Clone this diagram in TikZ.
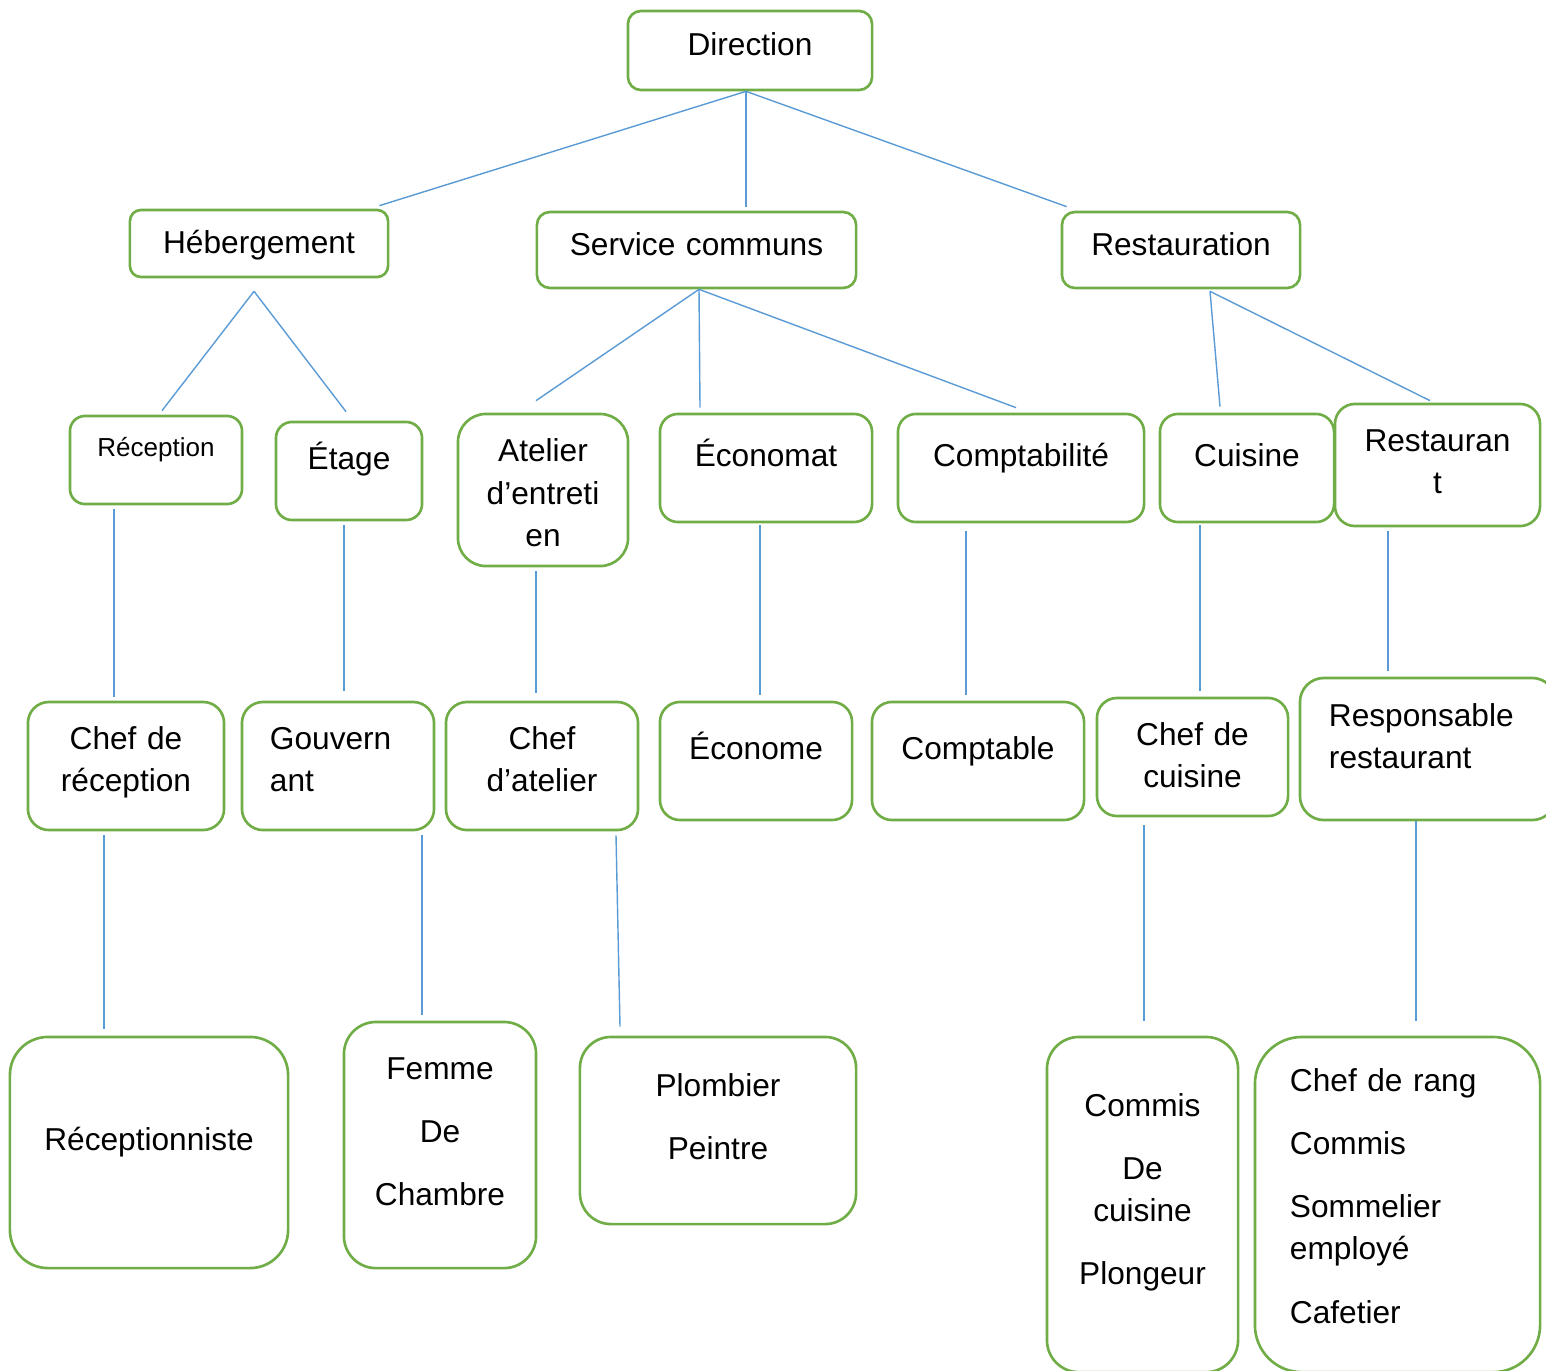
\documentclass[tikz,border=0pt]{standalone}
\usepackage{fontspec}
\setmainfont{Liberation Sans}
\usepackage{tikz}
\usetikzlibrary{positioning,calc}
\definecolor{orggreen}{RGB}{112,173,71}
\definecolor{orgblue}{RGB}{91,155,213}

\begin{document}
\begin{tikzpicture}[x=0.01cm, y=-0.01cm,
    box/.style={rectangle, draw=orggreen, line width=0.75pt, inner sep=0pt, anchor=base, align=center, font=\fontsize{9pt}{12pt}\selectfont},
    leftbox/.style={box, align=left},
    link/.style={draw=orgblue, line width=0.4pt}]

    \useasboundingbox (0,0) rectangle (1546,1370);

    % level 0 and 1
    \node[box, rounded corners=0.13cm, text width=2.44cm, text height=0.45cm, text depth=0.34cm] (dir) at (750,56) {Direction};
    \node[box, rounded corners=0.11cm, text width=2.58cm, text height=0.44cm, text depth=0.23cm] (heb) at (259,254) {Hébergement};
    \node[box, rounded corners=0.13cm, text width=3.19cm, text height=0.44cm, text depth=0.32cm] (serv) at (696.5,256) {Service communs};
    \node[box, rounded corners=0.13cm, text width=2.38cm, text height=0.44cm, text depth=0.32cm] (rest) at (1181,256) {Restauration};

    % level 2
    \node[box, rounded corners=0.15cm, text width=1.72cm, text height=0.40cm, text depth=0.48cm, font=\fontsize{7.4pt}{9pt}\selectfont] (recep) at (156,456) {Réception};
    \node[box, rounded corners=0.16cm, text width=1.46cm, text height=0.47cm, text depth=0.51cm] (etage) at (349,469) {Étage};
    \node[box, rounded corners=0.28cm, text width=1.70cm, text height=0.48cm, text depth=1.04cm] (atel) at (543,462) {Atelier\\d’entreti\\en};
    \node[box, rounded corners=0.18cm, text width=2.12cm, text height=0.52cm, text depth=0.56cm] (econ) at (766,466) {Économat};
    \node[box, rounded corners=0.18cm, text width=2.46cm, text height=0.52cm, text depth=0.56cm] (compta) at (1021,466) {Comptabilité};
    \node[box, rounded corners=0.18cm, text width=1.74cm, text height=0.52cm, text depth=0.56cm] (cuis) at (1247,466) {Cuisine};
    \node[box, rounded corners=0.20cm, text width=2.05cm, text height=0.47cm, text depth=0.75cm] (resto) at (1437.5,451) {Restauran\\t};

    % level 3
    \node[box, rounded corners=0.21cm, text width=1.96cm, text height=0.47cm, text depth=0.81cm] (chefrec) at (126,749) {Chef de\\réception};
    \node[leftbox, rounded corners=0.21cm, inner xsep=0.28cm, text width=1.36cm, text height=0.47cm, text depth=0.81cm] (gouv) at (338,749) {Gouvern\\ant};
    \node[box, rounded corners=0.21cm, text width=1.92cm, text height=0.47cm, text depth=0.81cm] (chefat) at (542,749) {Chef\\d’atelier};
    \node[box, rounded corners=0.20cm, text width=1.92cm, text height=0.57cm, text depth=0.61cm] (econome) at (756,759) {Économe};
    \node[box, rounded corners=0.20cm, text width=2.12cm, text height=0.57cm, text depth=0.61cm] (comptable) at (978,759) {Comptable};
    \node[box, rounded corners=0.20cm, text width=1.91cm, text height=0.47cm, text depth=0.71cm] (chefcuis) at (1192.5,745) {Chef de\\cuisine};
    \node[leftbox, rounded corners=0.24cm, inner xsep=0.29cm, text width=1.98cm, text height=0.48cm, text depth=0.94cm] (resp) at (1428,726) {Responsable\\restaurant};

    % level 4
    \node[box, rounded corners=0.38cm, text width=2.78cm, text height=1.13cm, text depth=1.18cm] (receptio) at (149,1150) {Réceptionniste};
    \node[box, rounded corners=0.32cm, text width=1.92cm, text height=0.57cm, text depth=1.89cm] (femme) at (440,1079) {Femme\\[6pt]De\\[6pt]Chambre};
    \node[box, rounded corners=0.31cm, text width=2.76cm, text height=0.59cm, text depth=1.28cm] (plomb) at (718,1096) {Plombier\\[6pt]Peintre};
    \node[box, rounded corners=0.32cm, text width=1.91cm, text height=0.79cm, text depth=2.56cm] (commis) at (1142.5,1116) {Commis\\[6pt]De\\cuisine\\[6pt]Plongeur};
    \node[leftbox, rounded corners=0.47cm, inner xsep=0.35cm, text width=2.15cm, text height=0.54cm, text depth=2.81cm] (chefrang) at (1397.5,1091) {Chef de rang\\[6pt]Commis\\[6pt]Sommelier\\employé\\[6pt]Cafetier};

    % links
    \draw[link] ($(dir.south)+(-4,0)$) -- ($(heb.north east)+(-10,-3)$);
    \draw[link] ($(dir.south)+(-4,0)$) -- ($(serv.north)+(49.5,-4)$);
    \draw[link] ($(dir.south)+(-4,0)$) -- ($(rest.north west)+(6,-4)$);
    \draw[link] ($(heb.south)+(-5,13)$) -- ($(recep.north)+(6,-4)$);
    \draw[link] ($(heb.south)+(-5,13)$) -- ($(etage.north)+(-3,-9)$);
    \draw[link] ($(serv.south)+(2.5,0)$) -- ($(atel.north)+(-7,-12)$);
    \draw[link] ($(serv.south)+(2.5,0)$) -- ($(econ.north)+(-66,-5)$);
    \draw[link] ($(serv.south)+(2.5,0)$) -- ($(compta.north)+(-5,-5)$);
    \draw[link] ($(rest.south)+(29,2)$) -- ($(cuis.north)+(-27,-6)$);
    \draw[link] ($(rest.south)+(29,2)$) -- ($(resto.north)+(-7.5,-2)$);

    \draw[link] ($(recep.south)+(-42,4)$) -- ($(chefrec.north)+(-12,-4)$);
    \draw[link] ($(etage.south)+(-5,4)$) -- ($(gouv.north)+(6,-10)$);
    \draw[link] ($(atel.south)+(-7,4)$) -- ($(chefat.north)+(-6,-8)$);
    \draw[link] ($(econ.south)+(-6,2)$) -- ($(econome.north)+(4,-6)$);
    \draw[link] ($(compta.south)+(-55,8)$) -- ($(comptable.north)+(-12,-6)$);
    \draw[link] ($(cuis.south)+(-47,2)$) -- ($(chefcuis.north)+(7.5,-6)$);
    \draw[link] ($(resto.south)+(-49.5,4)$) -- ($(resp.north)+(-40,-6)$);

    \draw[link] ($(chefrec.south)+(-22,4)$) -- ($(receptio.north)+(-45,-7)$);
    \draw[link] ($(gouv.south)+(84,4)$) -- ($(femme.north)+(-18,-6)$);
    \draw[link] ($(chefat.south)+(74,4)$) -- ($(plomb.north)+(-98,-9)$);
    \draw[link] ($(chefcuis.south)+(-48.5,8)$) -- ($(commis.north)+(1.5,-15)$);
    \draw[link] ($(resp.south)+(-12,0)$) -- ($(chefrang.north)+(18.5,-15)$);
\end{tikzpicture}
\end{document}
